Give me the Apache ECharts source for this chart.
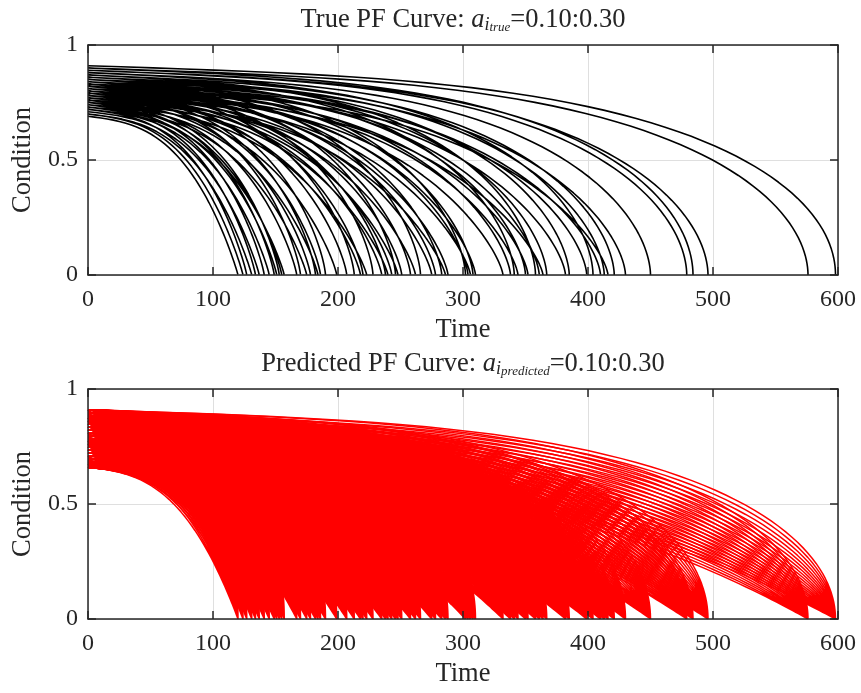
<!DOCTYPE html>
<html>
<head>
<meta charset="utf-8">
<script src="https://cdn.jsdelivr.net/npm/echarts@6/dist/echarts.min.js"></script>
<style>
  html, body { margin: 0; padding: 0; background: #ffffff; }
  #chart { width: 861px; height: 693px; }
</style>
</head>
<body>
<div id="chart"></div>
<script>
// Axis ticks
const timeTicks = [0, 100, 200, 300, 400, 500, 600];
const conditionTicks = [0, 0.5, 1];

// True PF curves: time at which each asset reaches zero condition
const trueFailTimes = [
  120, 124, 127, 131, 134, 137, 141, 145, 149, 151, 153, 155, 157,
  167, 170, 175, 178, 182, 184, 186, 190, 199, 207, 213, 218, 220,
  223, 228, 235, 238, 240, 243, 246, 248, 251, 258, 262, 266, 275,
  278, 283, 286, 288, 302, 304, 306, 308, 310, 332, 338, 341, 344,
  350, 352, 358, 361, 364, 367, 382, 385, 399, 404, 410, 413, 416,
  421, 430, 450, 479, 484, 496, 576, 598
];
// ...and their initial condition at time 0
const trueStartValues = [
  0.69, 0.70, 0.72, 0.70, 0.73, 0.71, 0.74, 0.72, 0.75, 0.73, 0.76, 0.74, 0.72,
  0.75, 0.78, 0.73, 0.76, 0.79, 0.74, 0.77, 0.80, 0.75, 0.78, 0.81, 0.76, 0.79,
  0.74, 0.82, 0.77, 0.80, 0.75, 0.78, 0.83, 0.76, 0.79, 0.81, 0.77, 0.84, 0.78,
  0.80, 0.82, 0.76, 0.79, 0.85, 0.81, 0.78, 0.83, 0.80, 0.79, 0.82, 0.86, 0.80,
  0.84, 0.81, 0.87, 0.83, 0.79, 0.85, 0.82, 0.86, 0.84, 0.88, 0.83, 0.86, 0.81,
  0.87, 0.85, 0.88, 0.89, 0.90, 0.89, 0.90, 0.91
];

// Predicted PF curves: every failure time is paired with each of these initial conditions
const predictedFailTimes = trueFailTimes.slice();
const predictedStartValues = [
  0.660, 0.6725, 0.685, 0.6975, 0.710, 0.7225, 0.735, 0.7475, 0.760, 0.7725, 0.785,
  0.7975, 0.810, 0.8225, 0.835, 0.8475, 0.860, 0.8725, 0.885, 0.8975, 0.910
];

const FONT = '"Liberation Serif", "DejaVu Serif", serif';
const TEXT_COLOR = '#262626';
const AXIS_COLOR = '#262626';
const GRID_COLOR = '#dfdfdf';

// P-F curve C(t) = C0 * (1 - w r) * (1 - r^n)^m with r = t/L ; assets that
// start in better condition hold on longer and then fall away more abruptly.
function pfCurve(c0, failTime) {
  const s = Math.min(1, Math.max(0, (c0 - 0.66) / 0.25));
  const n = 3.0 + 0.6 * s;
  const m = 1 - 0.5 * s;
  const w = 0.12;
  const pts = [];
  const steps = 56;
  for (let i = 0; i <= steps; i++) {
    const u = i / steps;
    const r = 1 - Math.pow(1 - u, 2.5);
    const v = c0 * (1 - w * r) * Math.pow(Math.max(0, 1 - Math.pow(r, n)), m);
    pts.push([r * failTime, v]);
  }
  return pts;
}

function joinCurves(curves) {
  const out = [];
  curves.forEach(c => { c.forEach(p => out.push(p)); out.push(['-', '-']); });
  return out;
}

const trueData = joinCurves(trueFailTimes.map((L, i) => pfCurve(trueStartValues[i], L)));
const predictedSeries = predictedFailTimes.map(L => ({
  type: 'line', xAxisIndex: 3, yAxisIndex: 3, showSymbol: false, symbol: 'none',
  animation: false, silent: true, connectNulls: false,
  lineStyle: { color: '#ff0000', width: 1.5 },
  data: joinCurves(predictedStartValues.map(c0 => pfCurve(c0, L)))
}));

const grids = [
  { left: 88, right: 23, top: 45, height: 230 },
  { left: 88, right: 23, top: 389, height: 230 }
];

const frameLine = { show: true, onZero: false, lineStyle: { color: AXIS_COLOR, width: 1.5 } };
const frameTick = { show: true, inside: true, length: 8, lineStyle: { color: AXIS_COLOR, width: 1.5 } };

function xAxes(gi) {
  const base = { gridIndex: gi, type: 'value', min: 0, max: 600, interval: 100 };
  return [
    // grid lines underneath the curves
    Object.assign({}, base, { position: 'bottom', z: 0,
      axisLine: { show: false, onZero: false }, axisTick: { show: false }, axisLabel: { show: false },
      splitLine: { show: true, lineStyle: { color: GRID_COLOR, width: 1 } } }),
    // bottom frame with labels
    Object.assign({}, base, { position: 'bottom', z: 10,
      name: 'Time', nameLocation: 'middle', nameGap: 42,
      nameTextStyle: { fontFamily: FONT, fontSize: 26.5, color: TEXT_COLOR },
      axisLine: frameLine, axisTick: frameTick,
      axisLabel: { show: true, margin: 13, fontFamily: FONT, fontSize: 24, color: TEXT_COLOR },
      splitLine: { show: false } }),
    // top frame
    Object.assign({}, base, { position: 'top', z: 10,
      axisLine: frameLine, axisTick: frameTick,
      axisLabel: { show: false }, splitLine: { show: false } })
  ];
}
function yAxes(gi) {
  const base = { gridIndex: gi, type: 'value', min: 0, max: 1, interval: 0.5 };
  return [
    Object.assign({}, base, { position: 'left', z: 0,
      axisLine: { show: false, onZero: false }, axisTick: { show: false }, axisLabel: { show: false },
      splitLine: { show: true, lineStyle: { color: GRID_COLOR, width: 1 } } }),
    Object.assign({}, base, { position: 'left', z: 10,
      name: 'Condition', nameLocation: 'middle', nameGap: 51, nameRotate: 90,
      nameTextStyle: { fontFamily: FONT, fontSize: 26.5, color: TEXT_COLOR },
      axisLine: frameLine, axisTick: frameTick,
      axisLabel: { show: true, margin: 10, fontFamily: FONT, fontSize: 24, color: TEXT_COLOR,
        formatter: v => String(v) },
      splitLine: { show: false } }),
    Object.assign({}, base, { position: 'right', z: 10,
      axisLine: frameLine, axisTick: frameTick,
      axisLabel: { show: false }, splitLine: { show: false } })
  ];
}

const titleRich = {
  n: { fontFamily: FONT, fontSize: 26.5, fontWeight: 'normal', color: TEXT_COLOR, lineHeight: 30, verticalAlign: 'bottom' },
  it: { fontFamily: FONT, fontSize: 26.5, fontWeight: 'normal', fontStyle: 'italic', color: TEXT_COLOR, lineHeight: 30, verticalAlign: 'bottom' },
  s1: { fontFamily: FONT, fontSize: 18, fontWeight: 'normal', fontStyle: 'italic', color: TEXT_COLOR, lineHeight: 17, verticalAlign: 'bottom' },
  s2: { fontFamily: FONT, fontSize: 13, fontWeight: 'normal', fontStyle: 'italic', color: TEXT_COLOR, lineHeight: 4, verticalAlign: 'bottom' }
};

const chart = echarts.init(document.getElementById('chart'), null, { renderer: 'canvas' });
chart.setOption({
  animation: false,
  backgroundColor: '#ffffff',
  title: [
    { text: '{n|True PF Curve: }{it|a}{s1|i}{s2|true}{n|=0.10:0.30}',
      left: 463, top: 4, padding: 0, textAlign: 'center',
      textStyle: { fontWeight: 'normal', rich: titleRich } },
    { text: '{n|Predicted PF Curve: }{it|a}{s1|i}{s2|predicted}{n|=0.10:0.30}',
      left: 463, top: 348, padding: 0, textAlign: 'center',
      textStyle: { fontWeight: 'normal', rich: titleRich } }
  ],
  grid: grids,
  xAxis: xAxes(0).concat(xAxes(1)),
  yAxis: yAxes(0).concat(yAxes(1)),
  series: [
    { type: 'line', xAxisIndex: 0, yAxisIndex: 0, showSymbol: false, symbol: 'none',
      animation: false, silent: true, connectNulls: false,
      lineStyle: { color: '#000000', width: 1.6 }, data: trueData }
  ].concat(predictedSeries)
});
</script>
</body>
</html>
